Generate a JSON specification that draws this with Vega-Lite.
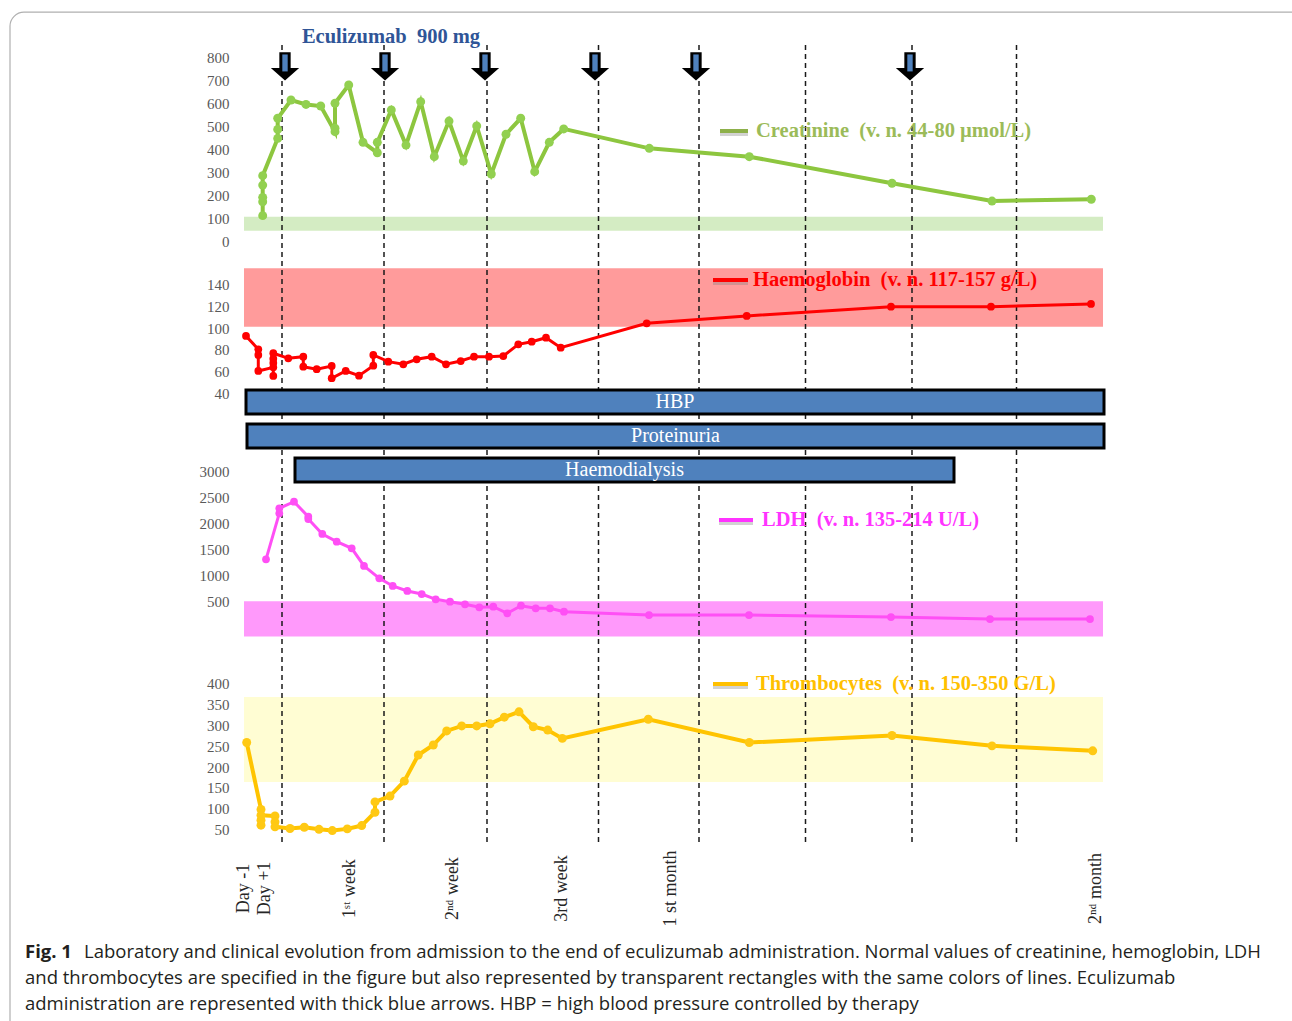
{
  "$schema": "https://vega.github.io/schema/vega-lite/v6.json",
  "width": 865,
  "height": 800,
  "autosize": {"type": "none"},
  "padding": {"left": 239, "top": 45, "right": 188, "bottom": 176},
  "background": "white",
  "config": {
    "view": {"stroke": null},
    "axis": {"grid": false},
    "axisX": {"domain": false, "ticks": false, "grid": false, "title": null, "labelAngle": -90, "labelAlign": "center", "labelBaseline": "middle", "labelPadding": 43, "labelFont": "Liberation Serif", "labelFontSize": 18, "labelColor": "#262626", "labelOverlap": false, "labelFlush": false, "labelBound": false}
  },
  "datasets": {
    "creat": [
      {"i":1,"t":1.87,"v":114},{"i":2,"t":1.87,"v":174},{"i":3,"t":1.87,"v":193},{"i":4,"t":1.87,"v":246},{"i":5,"t":1.87,"v":287},
      {"i":6,"t":3.37,"v":448},{"i":7,"t":3.37,"v":487},{"i":8,"t":3.37,"v":535},{"i":9,"t":4.7,"v":614},{"i":10,"t":6.2,"v":595},
      {"i":11,"t":7.67,"v":588},{"i":12,"t":9.1,"v":477},{"i":13,"t":9.1,"v":492},{"i":14,"t":9.1,"v":600},{"i":15,"t":10.47,"v":679},
      {"i":16,"t":11.9,"v":431},{"i":17,"t":13.33,"v":386},{"i":18,"t":13.33,"v":431},{"i":19,"t":14.73,"v":571},{"i":20,"t":16.2,"v":419},
      {"i":21,"t":17.67,"v":607},{"i":22,"t":19.03,"v":369},{"i":23,"t":20.5,"v":523},{"i":24,"t":21.93,"v":350},{"i":25,"t":23.27,"v":502},
      {"i":26,"t":24.73,"v":294},{"i":27,"t":26.2,"v":466},{"i":28,"t":27.67,"v":535},{"i":29,"t":29.07,"v":304},{"i":30,"t":30.53,"v":431},
      {"i":31,"t":31.97,"v":489},{"i":32,"t":40.53,"v":405},{"i":33,"t":50.53,"v":369},{"i":34,"t":64.8,"v":254},{"i":35,"t":74.8,"v":177},
      {"i":36,"t":84.73,"v":185}
    ],
    "hb": [
      {"i":1,"t":0.2,"v":92.9},{"i":2,"t":1.43,"v":80.6},{"i":3,"t":1.43,"v":75.4},{"i":4,"t":1.43,"v":60.6},{"i":5,"t":2.93,"v":64},
      {"i":6,"t":2.93,"v":56},{"i":7,"t":2.93,"v":68},{"i":8,"t":2.93,"v":72},{"i":9,"t":2.93,"v":77},{"i":10,"t":4.43,"v":72.3},
      {"i":11,"t":5.93,"v":73.8},{"i":12,"t":5.93,"v":64.6},{"i":13,"t":7.27,"v":62.2},{"i":14,"t":8.77,"v":65.2},{"i":15,"t":8.77,"v":53.9},
      {"i":16,"t":10.17,"v":60.6},{"i":17,"t":11.5,"v":56.3},{"i":18,"t":12.93,"v":65.5},{"i":19,"t":12.93,"v":75.4},{"i":20,"t":14.43,"v":69.2},
      {"i":21,"t":15.93,"v":66.8},{"i":22,"t":17.27,"v":71.4},{"i":23,"t":18.77,"v":73.8},{"i":24,"t":20.2,"v":66.8},{"i":25,"t":21.67,"v":69.8},
      {"i":26,"t":23.0,"v":73.8},{"i":27,"t":24.5,"v":73.8},{"i":28,"t":25.93,"v":74.4},{"i":29,"t":27.43,"v":85.2},{"i":30,"t":28.77,"v":87.6},
      {"i":31,"t":30.2,"v":91.3},{"i":32,"t":31.67,"v":82.1},{"i":33,"t":40.27,"v":104.6},{"i":34,"t":50.27,"v":111.4},{"i":35,"t":64.7,"v":120},
      {"i":36,"t":74.7,"v":120},{"i":37,"t":84.7,"v":122.5}
    ],
    "ldh": [
      {"i":1,"t":2.2,"v":1315},{"i":2,"t":3.53,"v":2200},{"i":3,"t":3.53,"v":2296},{"i":4,"t":5.0,"v":2423},{"i":5,"t":6.43,"v":2135},
      {"i":6,"t":6.43,"v":2090},{"i":7,"t":7.83,"v":1802},{"i":8,"t":9.27,"v":1654},{"i":9,"t":10.77,"v":1527},{"i":10,"t":12.0,"v":1187},
      {"i":11,"t":13.53,"v":950},{"i":12,"t":14.87,"v":802},{"i":13,"t":16.33,"v":706},{"i":14,"t":17.77,"v":648},{"i":15,"t":19.17,"v":546},
      {"i":16,"t":20.6,"v":500},{"i":17,"t":22.1,"v":450},{"i":18,"t":23.53,"v":392},{"i":19,"t":24.93,"v":404},{"i":20,"t":26.33,"v":277},
      {"i":21,"t":27.7,"v":423},{"i":22,"t":29.17,"v":373},{"i":23,"t":30.6,"v":373},{"i":24,"t":32.0,"v":308},{"i":25,"t":40.5,"v":244},
      {"i":26,"t":50.5,"v":244},{"i":27,"t":64.7,"v":204},{"i":28,"t":74.6,"v":165},{"i":29,"t":84.6,"v":165}
    ],
    "plt": [
      {"i":1,"t":0.27,"v":259},{"i":2,"t":1.7,"v":98},{"i":3,"t":1.7,"v":60},{"i":4,"t":1.7,"v":72},{"i":5,"t":1.7,"v":84},
      {"i":6,"t":3.1,"v":82},{"i":7,"t":3.1,"v":68},{"i":8,"t":3.1,"v":56},{"i":9,"t":4.6,"v":52},{"i":10,"t":6.03,"v":55},
      {"i":11,"t":7.5,"v":50},{"i":12,"t":8.83,"v":47},{"i":13,"t":10.33,"v":51},{"i":14,"t":11.77,"v":59},{"i":15,"t":13.1,"v":91},
      {"i":16,"t":13.1,"v":116},{"i":17,"t":14.6,"v":130},{"i":18,"t":16.03,"v":166},{"i":19,"t":17.43,"v":229},{"i":20,"t":18.93,"v":253},
      {"i":21,"t":20.27,"v":287},{"i":22,"t":21.77,"v":299},{"i":23,"t":23.27,"v":299},{"i":24,"t":24.6,"v":304},{"i":25,"t":26.03,"v":320},
      {"i":26,"t":27.5,"v":333},{"i":27,"t":28.93,"v":297},{"i":28,"t":30.37,"v":289},{"i":29,"t":31.83,"v":269},{"i":30,"t":40.43,"v":315},
      {"i":31,"t":50.53,"v":259},{"i":32,"t":64.8,"v":276},{"i":33,"t":74.8,"v":251},{"i":34,"t":84.87,"v":239}
    ],
    "doses": [{"t":4.1},{"t":14.1},{"t":24.1},{"t":35.1},{"t":45.2},{"t":66.6}],
    "marks": [{"t":3.8},{"t":14.0},{"t":24.3},{"t":35.45},{"t":45.5},{"t":56.15},{"t":66.8},{"t":77.25}],
    "treat": [
      {"item":"HBP","start":0.2,"end":86.0},
      {"item":"Proteinuria","start":0.3,"end":86.0},
      {"item":"Haemodialysis","start":5.1,"end":71.0}
    ]
  },
  "resolve": {"scale": {"y": "independent"}, "axis": {"y": "independent"}},
  "layer": [
    {
      "data": {"name": "marks"},
      "mark": {"type": "rule", "strokeDash": [5, 4], "strokeWidth": 1.5, "color": "#1A1A1A", "opacity": 0},
      "encoding": {
        "x": {
          "field": "t", "type": "quantitative",
          "scale": {"domain": [-0.5, 86], "nice": false, "zero": false},
          "axis": {
            "values": [-0.1, 2.0, 10.5, 20.8, 31.7, 42.6, 85.1],
            "labelExpr": "datum.value < 1 ? 'Day -1' : datum.value < 5 ? 'Day +1' : datum.value < 15 ? '1ˢᵗ week' : datum.value < 25 ? '2ⁿᵈ week' : datum.value < 35 ? '3rd week' : datum.value < 50 ? '1 st month' : '2ⁿᵈ month'"
          }
        }
      }
    },
    {
      "data": {"values": [{"t0": 0, "t1": 85.9, "lo": 49, "hi": 109}]},
      "mark": {"type": "rect", "color": "#D4ECC3"},
      "encoding": {
        "x": {"field": "t0", "type": "quantitative", "scale": {"domain": [-0.5, 86], "nice": false, "zero": false}},
        "x2": {"field": "t1"},
        "y": {"field": "lo", "type": "quantitative", "scale": {"domain": [-2607.6, 851.9], "nice": false, "zero": false}, "axis": null},
        "y2": {"field": "hi"}
      }
    },
    {
      "data": {"values": [{"t0": 0, "t1": 85.9, "lo": 101.5, "hi": 155.4}]},
      "mark": {"type": "rect", "color": "#FF9B9B"},
      "encoding": {
        "x": {"field": "t0", "type": "quantitative", "scale": {"domain": [-0.5, 86], "nice": false, "zero": false}},
        "x2": {"field": "t1"},
        "y": {"field": "lo", "type": "quantitative", "scale": {"domain": [-377.1, 361.6], "nice": false, "zero": false}, "axis": null},
        "y2": {"field": "hi"}
      }
    },
    {
      "data": {"values": [{"t0": 0, "t1": 85.9, "lo": -170, "hi": 510}]},
      "mark": {"type": "rect", "color": "#FF99FB"},
      "encoding": {
        "x": {"field": "t0", "type": "quantitative", "scale": {"domain": [-0.5, 86], "nice": false, "zero": false}},
        "x2": {"field": "t1"},
        "y": {"field": "lo", "type": "quantitative", "scale": {"domain": [-4179, 11206], "nice": false, "zero": false}, "axis": null},
        "y2": {"field": "hi"}
      }
    },
    {
      "data": {"values": [{"t0": 0, "t1": 85.9, "lo": 164, "hi": 368.6}]},
      "mark": {"type": "rect", "color": "#FFFDD3"},
      "encoding": {
        "x": {"field": "t0", "type": "quantitative", "scale": {"domain": [-0.5, 86], "nice": false, "zero": false}},
        "x2": {"field": "t1"},
        "y": {"field": "lo", "type": "quantitative", "scale": {"domain": [12.2, 1939], "nice": false, "zero": false}, "axis": null},
        "y2": {"field": "hi"}
      }
    },
    {
      "data": {"name": "marks"},
      "mark": {"type": "rule", "strokeDash": [5, 4], "strokeWidth": 1.5, "color": "#1A1A1A"},
      "encoding": {
        "x": {"field": "t", "type": "quantitative", "scale": {"domain": [-0.5, 86], "nice": false, "zero": false}}
      }
    },
    {
      "data": {"name": "creat"},
      "mark": {"type": "line", "color": "#8DC63F", "strokeWidth": 4, "point": {"filled": true, "size": 80, "color": "#92D050"}},
      "encoding": {
        "x": {"field": "t", "type": "quantitative", "scale": {"domain": [-0.5, 86], "nice": false, "zero": false}},
        "y": {"field": "v", "type": "quantitative", "scale": {"domain": [-2607.6, 851.9], "nice": false, "zero": false},
          "axis": {"orient": "left", "values": [0, 100, 200, 300, 400, 500, 600, 700, 800], "format": "d", "domain": false, "ticks": false, "grid": false, "title": null, "labelFont": "Liberation Serif", "labelFontSize": 15, "labelColor": "#595959", "labelPadding": 10, "labelOverlap": false, "labelFlush": false, "labelBound": false}},
        "order": {"field": "i"}
      }
    },
    {
      "data": {"name": "hb"},
      "mark": {"type": "line", "color": "#FF0000", "strokeWidth": 3, "point": {"filled": true, "size": 60, "color": "#FF0000"}},
      "encoding": {
        "x": {"field": "t", "type": "quantitative", "scale": {"domain": [-0.5, 86], "nice": false, "zero": false}},
        "y": {"field": "v", "type": "quantitative", "scale": {"domain": [-377.1, 361.6], "nice": false, "zero": false},
          "axis": {"orient": "left", "values": [40, 60, 80, 100, 120, 140], "format": "d", "domain": false, "ticks": false, "grid": false, "title": null, "labelFont": "Liberation Serif", "labelFontSize": 15, "labelColor": "#595959", "labelPadding": 10, "labelOverlap": false, "labelFlush": false, "labelBound": false}},
        "order": {"field": "i"}
      }
    },
    {
      "data": {"name": "ldh"},
      "mark": {"type": "line", "color": "#FF4FF5", "strokeWidth": 3, "point": {"filled": true, "size": 60, "color": "#FF4FF5"}},
      "encoding": {
        "x": {"field": "t", "type": "quantitative", "scale": {"domain": [-0.5, 86], "nice": false, "zero": false}},
        "y": {"field": "v", "type": "quantitative", "scale": {"domain": [-4179, 11206], "nice": false, "zero": false},
          "axis": {"orient": "left", "values": [500, 1000, 1500, 2000, 2500, 3000], "format": "d", "domain": false, "ticks": false, "grid": false, "title": null, "labelFont": "Liberation Serif", "labelFontSize": 15, "labelColor": "#595959", "labelPadding": 10, "labelOverlap": false, "labelFlush": false, "labelBound": false}},
        "order": {"field": "i"}
      }
    },
    {
      "data": {"name": "plt"},
      "mark": {"type": "line", "color": "#FFC400", "strokeWidth": 4, "point": {"filled": true, "size": 80, "color": "#FFC914"}},
      "encoding": {
        "x": {"field": "t", "type": "quantitative", "scale": {"domain": [-0.5, 86], "nice": false, "zero": false}},
        "y": {"field": "v", "type": "quantitative", "scale": {"domain": [12.2, 1939], "nice": false, "zero": false},
          "axis": {"orient": "left", "values": [50, 100, 150, 200, 250, 300, 350, 400], "format": "d", "domain": false, "ticks": false, "grid": false, "title": null, "labelFont": "Liberation Serif", "labelFontSize": 15, "labelColor": "#595959", "labelPadding": 10, "labelOverlap": false, "labelFlush": false, "labelBound": false}},
        "order": {"field": "i"}
      }
    },
    {
      "data": {"name": "treat"},
      "mark": {"type": "rect", "fill": "#4F81BD", "stroke": "#000000", "strokeWidth": 3},
      "encoding": {
        "x": {"field": "start", "type": "quantitative", "scale": {"domain": [-0.5, 86], "nice": false, "zero": false}},
        "x2": {"field": "end"},
        "y": {"field": "item", "type": "nominal", "scale": {"type": "band", "domain": ["HBP", "Proteinuria", "Haemodialysis"], "range": [345, 437], "paddingInner": 0.294, "paddingOuter": 0}, "axis": null}
      }
    },
    {
      "data": {"name": "treat"},
      "transform": [{"calculate": "(datum.start + datum.end) / 2", "as": "mid"}],
      "mark": {"type": "text", "color": "white", "font": "Liberation Serif", "fontSize": 20, "baseline": "middle", "align": "center"},
      "encoding": {
        "x": {"field": "mid", "type": "quantitative", "scale": {"domain": [-0.5, 86], "nice": false, "zero": false}},
        "y": {"field": "item", "type": "nominal", "scale": {"type": "band", "domain": ["HBP", "Proteinuria", "Haemodialysis"], "range": [345, 437], "paddingInner": 0.294, "paddingOuter": 0}, "axis": null},
        "text": {"field": "item"}
      }
    },
    {
      "data": {"name": "doses"},
      "mark": {"type": "point", "filled": true, "opacity": 1, "color": "#000000", "size": 800, "shape": "M-0.4,-1L0.4,-1L0.4,0.1L1,0.1L0,1L-1,0.1L-0.4,0.1Z"},
      "encoding": {
        "x": {"field": "t", "type": "quantitative", "scale": {"domain": [-0.5, 86], "nice": false, "zero": false}},
        "y": {"datum": 759, "type": "quantitative", "scale": {"domain": [-2607.6, 851.9], "nice": false, "zero": false}, "axis": null}
      }
    },
    {
      "data": {"name": "doses"},
      "mark": {"type": "point", "filled": true, "opacity": 1, "color": "#4F81BD", "size": 800, "shape": "M-0.19,-0.85L0.19,-0.85L0.19,0.35L-0.19,0.35Z"},
      "encoding": {
        "x": {"field": "t", "type": "quantitative", "scale": {"domain": [-0.5, 86], "nice": false, "zero": false}},
        "y": {"datum": 759, "type": "quantitative", "scale": {"domain": [-2607.6, 851.9], "nice": false, "zero": false}, "axis": null}
      }
    },
    {
      "data": {"values": [{"label": "Eculizumab\u00a0 900 mg"}]},
      "mark": {"type": "text", "font": "Liberation Serif", "fontWeight": "bold", "fontSize": 20.5, "color": "#2F5597", "align": "center", "baseline": "middle"},
      "encoding": {
        "x": {"datum": 14.7, "type": "quantitative", "scale": {"domain": [-0.5, 86], "nice": false, "zero": false}},
        "y": {"datum": 886, "type": "quantitative", "scale": {"domain": [-2607.6, 851.9], "nice": false, "zero": false}, "axis": null},
        "text": {"field": "label"}
      }
    },
    {
      "data": {"values": [{"series": "Creatinine"}]},
      "mark": {"type": "rule", "strokeWidth": 4, "color": "#7F7F7F", "opacity": 0.35, "yOffset": 3},
      "encoding": {
        "x": {"datum": 47.6, "type": "quantitative", "scale": {"domain": [-0.5, 86], "nice": false, "zero": false}},
        "x2": {"datum": 50.4},
        "y": {"datum": 480, "type": "quantitative", "scale": {"domain": [-2607.6, 851.9], "nice": false, "zero": false}, "axis": null}
      }
    },
    {
      "data": {"values": [{"series": "Creatinine"}]},
      "mark": {"type": "rule", "strokeWidth": 4, "color": "#8DB04A"},
      "encoding": {
        "x": {"datum": 47.6, "type": "quantitative", "scale": {"domain": [-0.5, 86], "nice": false, "zero": false}},
        "x2": {"datum": 50.4},
        "y": {"datum": 480, "type": "quantitative", "scale": {"domain": [-2607.6, 851.9], "nice": false, "zero": false}, "axis": null}
      }
    },
    {
      "data": {"values": [{"label": "Creatinine\u00a0 (v. n. 44-80 µmol/L)"}]},
      "mark": {"type": "text", "font": "Liberation Serif", "fontWeight": "bold", "fontSize": 20.5, "color": "#9BBB59", "align": "left", "baseline": "middle"},
      "encoding": {
        "x": {"datum": 51.2, "type": "quantitative", "scale": {"domain": [-0.5, 86], "nice": false, "zero": false}},
        "y": {"datum": 480, "type": "quantitative", "scale": {"domain": [-2607.6, 851.9], "nice": false, "zero": false}, "axis": null},
        "text": {"field": "label"}
      }
    },
    {
      "data": {"values": [{"series": "Haemoglobin"}]},
      "mark": {"type": "rule", "strokeWidth": 4, "color": "#7F7F7F", "opacity": 0.35, "yOffset": 3},
      "encoding": {
        "x": {"datum": 46.9, "type": "quantitative", "scale": {"domain": [-0.5, 86], "nice": false, "zero": false}},
        "x2": {"datum": 50.4},
        "y": {"datum": 144.6, "type": "quantitative", "scale": {"domain": [-377.1, 361.6], "nice": false, "zero": false}, "axis": null}
      }
    },
    {
      "data": {"values": [{"series": "Haemoglobin"}]},
      "mark": {"type": "rule", "strokeWidth": 4, "color": "#FF0000"},
      "encoding": {
        "x": {"datum": 46.9, "type": "quantitative", "scale": {"domain": [-0.5, 86], "nice": false, "zero": false}},
        "x2": {"datum": 50.4},
        "y": {"datum": 144.6, "type": "quantitative", "scale": {"domain": [-377.1, 361.6], "nice": false, "zero": false}, "axis": null}
      }
    },
    {
      "data": {"values": [{"label": "Haemoglobin\u00a0 (v. n. 117-157 g/L)"}]},
      "mark": {"type": "text", "font": "Liberation Serif", "fontWeight": "bold", "fontSize": 20.5, "color": "#FF0000", "align": "left", "baseline": "middle"},
      "encoding": {
        "x": {"datum": 50.9, "type": "quantitative", "scale": {"domain": [-0.5, 86], "nice": false, "zero": false}},
        "y": {"datum": 144.6, "type": "quantitative", "scale": {"domain": [-377.1, 361.6], "nice": false, "zero": false}, "axis": null},
        "text": {"field": "label"}
      }
    },
    {
      "data": {"values": [{"series": "LDH"}]},
      "mark": {"type": "rule", "strokeWidth": 4, "color": "#7F7F7F", "opacity": 0.35, "yOffset": 3},
      "encoding": {
        "x": {"datum": 47.5, "type": "quantitative", "scale": {"domain": [-0.5, 86], "nice": false, "zero": false}},
        "x2": {"datum": 50.9},
        "y": {"datum": 2071, "type": "quantitative", "scale": {"domain": [-4179, 11206], "nice": false, "zero": false}, "axis": null}
      }
    },
    {
      "data": {"values": [{"series": "LDH"}]},
      "mark": {"type": "rule", "strokeWidth": 4, "color": "#FF33FF"},
      "encoding": {
        "x": {"datum": 47.5, "type": "quantitative", "scale": {"domain": [-0.5, 86], "nice": false, "zero": false}},
        "x2": {"datum": 50.9},
        "y": {"datum": 2071, "type": "quantitative", "scale": {"domain": [-4179, 11206], "nice": false, "zero": false}, "axis": null}
      }
    },
    {
      "data": {"values": [{"label": "LDH\u00a0 (v. n. 135-214 U/L)"}]},
      "mark": {"type": "text", "font": "Liberation Serif", "fontWeight": "bold", "fontSize": 20.5, "color": "#FF33FF", "align": "left", "baseline": "middle"},
      "encoding": {
        "x": {"datum": 51.8, "type": "quantitative", "scale": {"domain": [-0.5, 86], "nice": false, "zero": false}},
        "y": {"datum": 2071, "type": "quantitative", "scale": {"domain": [-4179, 11206], "nice": false, "zero": false}, "axis": null},
        "text": {"field": "label"}
      }
    },
    {
      "data": {"values": [{"series": "Thrombocytes"}]},
      "mark": {"type": "rule", "strokeWidth": 4, "color": "#7F7F7F", "opacity": 0.35, "yOffset": 3},
      "encoding": {
        "x": {"datum": 46.9, "type": "quantitative", "scale": {"domain": [-0.5, 86], "nice": false, "zero": false}},
        "x2": {"datum": 50.4},
        "y": {"datum": 400, "type": "quantitative", "scale": {"domain": [12.2, 1939], "nice": false, "zero": false}, "axis": null}
      }
    },
    {
      "data": {"values": [{"series": "Thrombocytes"}]},
      "mark": {"type": "rule", "strokeWidth": 4, "color": "#FFC000"},
      "encoding": {
        "x": {"datum": 46.9, "type": "quantitative", "scale": {"domain": [-0.5, 86], "nice": false, "zero": false}},
        "x2": {"datum": 50.4},
        "y": {"datum": 400, "type": "quantitative", "scale": {"domain": [12.2, 1939], "nice": false, "zero": false}, "axis": null}
      }
    },
    {
      "data": {"values": [{"label": "Thrombocytes\u00a0 (v. n. 150-350 G/L)"}]},
      "mark": {"type": "text", "font": "Liberation Serif", "fontWeight": "bold", "fontSize": 20.5, "color": "#FFC000", "align": "left", "baseline": "middle"},
      "encoding": {
        "x": {"datum": 51.2, "type": "quantitative", "scale": {"domain": [-0.5, 86], "nice": false, "zero": false}},
        "y": {"datum": 400, "type": "quantitative", "scale": {"domain": [12.2, 1939], "nice": false, "zero": false}, "axis": null},
        "text": {"field": "label"}
      }
    },
    {
      "data": {"values": [{"line": "1", "text": "Fig. 1"}]},
      "mark": {"type": "text", "font": "Open Sans", "fontWeight": "bold", "fontSize": 18.5, "color": "#231F20", "align": "left", "baseline": "middle"},
      "encoding": {
        "x": {"datum": -21.9, "type": "quantitative", "scale": {"domain": [-0.5, 86], "nice": false, "zero": false}},
        "y": {"field": "line", "type": "ordinal", "scale": {"type": "point", "domain": ["1", "2", "3"], "range": [907, 959], "padding": 0}, "axis": null},
        "text": {"field": "text"}
      }
    },
    {
      "data": {"values": [{"line": "1", "text": "Laboratory and clinical evolution from admission to the end of eculizumab administration. Normal values of creatinine, hemoglobin, LDH"}]},
      "mark": {"type": "text", "font": "Open Sans", "fontSize": 18.5, "color": "#231F20", "align": "left", "baseline": "middle"},
      "encoding": {
        "x": {"datum": -16.0, "type": "quantitative", "scale": {"domain": [-0.5, 86], "nice": false, "zero": false}},
        "y": {"field": "line", "type": "ordinal", "scale": {"type": "point", "domain": ["1", "2", "3"], "range": [907, 959], "padding": 0}, "axis": null},
        "text": {"field": "text"}
      }
    },
    {
      "data": {"values": [
        {"line": "2", "text": "and thrombocytes are specified in the figure but also represented by transparent rectangles with the same colors of lines. Eculizumab"},
        {"line": "3", "text": "administration are represented with thick blue arrows. HBP = high blood pressure controlled by therapy"}
      ]},
      "mark": {"type": "text", "font": "Open Sans", "fontSize": 18.5, "color": "#231F20", "align": "left", "baseline": "middle"},
      "encoding": {
        "x": {"datum": -21.9, "type": "quantitative", "scale": {"domain": [-0.5, 86], "nice": false, "zero": false}},
        "y": {"field": "line", "type": "ordinal", "scale": {"type": "point", "domain": ["1", "2", "3"], "range": [907, 959], "padding": 0}, "axis": null},
        "text": {"field": "text"}
      }
    },
    {
      "data": {"values": [{"frame": "card"}]},
      "mark": {"type": "rect", "fill": "transparent", "stroke": "#B0B0B0", "strokeWidth": 1.2, "cornerRadius": 14},
      "encoding": {
        "x": {"datum": -23.4, "type": "quantitative", "scale": {"domain": [-0.5, 86], "nice": false, "zero": false}},
        "x2": {"datum": 120},
        "y": {"datum": 2018, "type": "quantitative", "scale": {"domain": [12.2, 1939], "nice": false, "zero": false}, "axis": null},
        "y2": {"datum": -600}
      }
    }
  ]
}
